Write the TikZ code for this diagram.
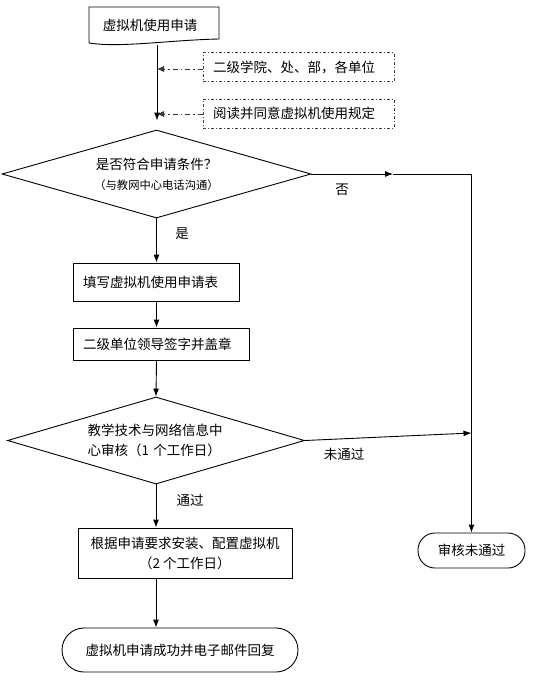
\documentclass[tikz,border=0pt]{standalone}
\usepackage{fontspec}
\setmainfont{Noto Sans CJK SC}
\usetikzlibrary{arrows.meta,shapes.geometric,calc}
\begin{document}
\begin{tikzpicture}[x=1pt,y=-1pt,
  base/.style={font=\fontsize{13.5}{20}\selectfont, inner sep=0pt, text=black},
  procbox/.style={base, draw, line width=0.9pt, align=left, inner xsep=10pt},
  notebox/.style={base, draw=black!75, line width=0.8pt, dash pattern=on 3pt off 2pt on 1pt off 2pt, align=left, inner xsep=10pt, minimum height=29pt},
  decision/.style={base, draw, line width=0.9pt, shape=diamond},
  terminal/.style={base, draw, line width=0.9pt, align=center},
  lbl/.style={base},
  flow/.style={line width=0.9pt, -{Latex[length=8pt,width=6pt]}},
  plain/.style={line width=0.9pt},
  hint/.style={line width=0.8pt, black!80, dash pattern=on 5pt off 3pt on 1.5pt off 3pt, -{Latex[length=7pt,width=6pt]}}
]
\useasboundingbox (0,0) rectangle (536,683);

% start document shape
\draw[line width=0.9pt] (89,7) -- (219,7) -- (219,39) .. controls (170,40) and (120,48) .. (89,43) -- cycle;
\node[base] (doc) at (150,25) {虚拟机使用申请};
\coordinate (docb) at (157,45);

% note boxes
\node[notebox, text width=171pt] (n1) at (298.5,67) {二级学院、处、部，各单位};
\node[notebox, text width=171pt] (n2) at (298.5,113.5) {阅读并同意虚拟机使用规定};

% decision 1
\node[decision, aspect=3.51, minimum width=309pt, minimum height=88pt, align=center] (d1) at (156.5,174)
  {是否符合申请条件？\\{\fontsize{11.3}{20}\selectfont（与教网中心电话沟通）}};

\coordinate (h1) at (157,69);
\coordinate (h2) at (157,114);

% boxes
\node[procbox, text width=146pt, minimum height=38pt] (b1) at (156,282) {填写虚拟机使用申请表};
\node[procbox, text width=156pt, minimum height=32pt] (b2) at (161,344) {二级单位领导签字并盖章};

% decision 2
\node[decision, aspect=3.41, minimum width=297pt, minimum height=87pt, align=left, text width=137pt] (d2) at (156,440.5)
  {教学技术与网络信息中\\心审核（1 个工作日）};

% box 3
\node[procbox, align=center, minimum width=214pt, minimum height=50pt] (b3) at (185,553)
  {根据申请要求安装、配置虚拟机\\（2 个工作日）};

% terminals
\node[terminal, rounded corners=17pt, minimum width=107pt, minimum height=35pt] (fail) at (471.5,550.5) {审核未通过};
\node[terminal, rounded corners=22pt, minimum width=236pt, minimum height=44pt] (ok) at (180,650) {虚拟机申请成功并电子邮件回复};

% main flow
\draw[flow] (docb) -- ($(d1.north)+(0.5,-9)$);
\draw[hint] (n1.west |- h1) -- (h1);
\draw[hint] (n2.west |- h2) -- (h2);
\draw[flow] (d1.south) -- (d1.south |- b1.north);
\draw[flow] (d1.south |- b1.south) -- (d1.south |- b2.north);
\draw[flow] (d1.south |- b2.south) -- (d2.north);
\draw[flow] (d2.south) -- (d2.south |- b3.north);
\draw[flow] (d2.south |- b3.south) -- (d2.south |- ok.north);

% no branch
\coordinate (m1) at (393,174);
\coordinate (c1) at (fail.north |- d1.east);
\coordinate (j2) at (471.5,433);
\draw[flow] (d1.east) -- (m1);
\draw[plain] (m1) -- (c1);
\draw[flow] (c1) -- (fail.north);
\draw[flow] (d2.east) -- (j2);

% labels
\node[lbl] (lno) at (342,190) {否};
\node[lbl] (lyes) at (182,234) {是};
\node[lbl] (lfail) at (344,454) {未通过};
\node[lbl] (lpass) at (190,500) {通过};
\end{tikzpicture}
\end{document}
